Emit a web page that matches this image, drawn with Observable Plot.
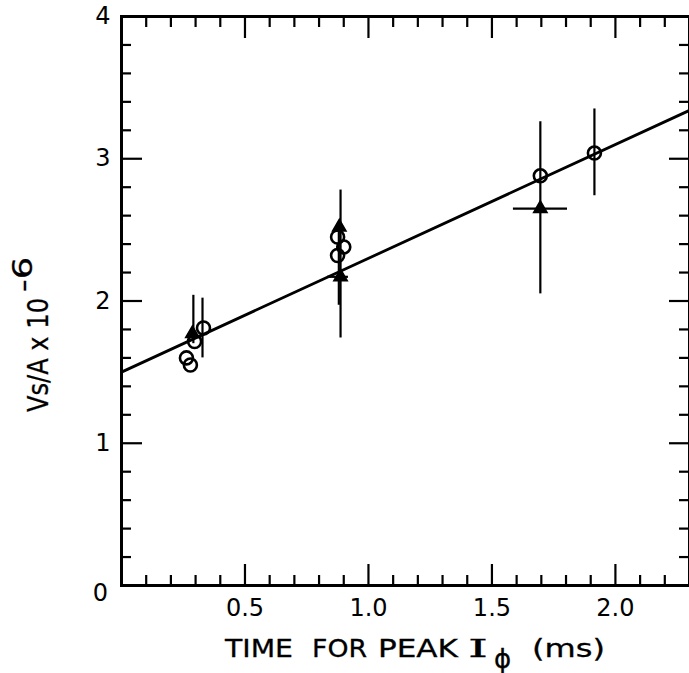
<!DOCTYPE html>
<html><head><meta charset="utf-8">
<script src="https://cdn.jsdelivr.net/npm/d3@7"></script>
<script src="https://cdn.jsdelivr.net/npm/@observablehq/plot@0.6"></script>
<style>body{margin:0;background:#fff} svg{display:block}</style>
</head><body><div id="chart"></div>
<script>
// Open circles
const openX = [0.263, 0.279, 0.296, 0.332, 0.875, 0.900, 0.875, 1.696, 1.915];
const openY = [1.60, 1.55, 1.715, 1.81, 2.45, 2.38, 2.32, 2.88, 3.04];
// Filled triangles
const filledX = [0.287, 0.882, 0.887, 1.696];
const filledY = [1.77, 2.52, 2.17, 2.65];
// Vertical error bars
const vErrX  = [0.291, 0.328, 0.887, 0.880, 1.696, 1.915];
const vErrLo = [1.70, 1.60, 1.74, 1.97, 2.05, 2.74];
const vErrHi = [2.04, 2.02, 2.78, 2.50, 3.26, 3.35];
// Horizontal error bars
const hErrY  = [2.17, 2.65];
const hErrLo = [0.834, 1.587];
const hErrHi = [0.919, 1.806];
// Fitted line end points
const fitX = [0, 2.3];
const fitY = [1.50, 3.34];
// Ticks
const xMajorTicks = [0.5, 1.0, 1.5, 2.0];
const xMinorTicks = [0.1,0.2,0.3,0.4,0.6,0.7,0.8,0.9,1.1,1.2,1.3,1.4,1.6,1.7,1.8,1.9,2.1,2.2];
const yMajorTicks = [1, 2, 3];
const yMinorTicks = [0.2,0.4,0.6,0.8,1.2,1.4,1.6,1.8,2.2,2.4,2.6,2.8,3.2,3.4,3.6,3.8];
const yTickLabels = [1, 2, 3, 4];
const yZeroLabel = ["0"];

const openPts = openX.map((x, i) => ({x, y: openY[i]}));
const filledPts = filledX.map((x, i) => ({x, y: filledY[i]}));
const vErr = vErrX.map((x, i) => ({x, y1: vErrLo[i], y2: vErrHi[i]}));
const hErr = hErrY.map((y, i) => ({y, x1: hErrLo[i], x2: hErrHi[i]}));
const fit = fitX.map((x, i) => ({x, y: fitY[i]}));

const blank = () => "";
const chart = Plot.plot({
  width: 689, height: 673,
  marginLeft: 121, marginRight: 0, marginTop: 16, marginBottom: 88,
  style: {background: "white", color: "black", fontFamily: "DejaVu Sans"},
  x: {domain: [0, 2.3]},
  y: {domain: [0, 4]},
  marks: [
    Plot.axisX(xMinorTicks, {anchor: "bottom", tickSize: -10, strokeWidth: 2.2, tickFormat: blank, label: null}),
    Plot.axisX(xMajorTicks, {anchor: "bottom", tickSize: -21, strokeWidth: 2.2, tickFormat: blank, label: null}),
    Plot.axisX(xMinorTicks, {anchor: "top", tickSize: -10, strokeWidth: 2.2, tickFormat: blank, label: null}),
    Plot.axisX(xMajorTicks, {anchor: "top", tickSize: -21, strokeWidth: 2.2, tickFormat: blank, label: null}),
    Plot.axisY(yMinorTicks, {anchor: "left", tickSize: -10, strokeWidth: 2.2, tickFormat: blank, label: null}),
    Plot.axisY(yMajorTicks, {anchor: "left", tickSize: -21, strokeWidth: 2.2, tickFormat: blank, label: null}),
    Plot.axisY(yMinorTicks, {anchor: "right", tickSize: -11, strokeWidth: 2.2, tickFormat: blank, label: null}),
    Plot.axisY(yMajorTicks, {anchor: "right", tickSize: -21, strokeWidth: 2.2, tickFormat: blank, label: null}),
    Plot.axisX(xMajorTicks, {anchor: "bottom", tickSize: 0, tickPadding: 13, fontSize: 24, tickFormat: d3.format(".1f"), label: null}),
    Plot.axisY(yTickLabels, {anchor: "left", tickSize: 0, tickPadding: 11, fontSize: 24, tickFormat: d3.format("d"), label: null}),
    Plot.text(yZeroLabel, {x: () => 0, y: () => 0, text: d => d, dx: -21, dy: 8, fontSize: 24, textAnchor: "middle", fill: "black"}),
    Plot.frame({stroke: "black", strokeWidth: 3}),
    Plot.line(fit, {x: "x", y: "y", stroke: "black", strokeWidth: 2.8}),
    Plot.ruleX(vErr, {x: "x", y1: "y1", y2: "y2", stroke: "black", strokeWidth: 2.2}),
    Plot.ruleY(hErr, {y: "y", x1: "x1", x2: "x2", stroke: "black", strokeWidth: 2.2}),
    Plot.dot(openPts, {x: "x", y: "y", r: 6.5, stroke: "black", strokeWidth: 2.6, fill: "none"}),
    Plot.dot(filledPts, {x: "x", y: "y", r: 5, symbol: "triangle", fill: "black", stroke: "black"})
  ]
});

const svg = d3.select(chart);
function addText(opts, str) {
  const t = svg.append("text")
    .attr("text-anchor", "start")
    .attr("font-family", opts.family || "DejaVu Sans")
    .attr("font-size", opts.size).attr("fill", "black")
    .attr("stroke", "black").attr("stroke-width", 0.3);
  if (opts.transform) t.attr("transform", opts.transform);
  if (opts.x != null) t.attr("x", opts.x).attr("y", opts.y);
  if (opts.len) t.attr("textLength", opts.len).attr("lengthAdjust", opts.adjust || "spacingAndGlyphs");
  t.text(str);
}
// y-axis title
addText({transform: "translate(48,412) rotate(-90)", size: 29, len: 114}, "Vs/A x 10");
addText({transform: "translate(32,292) rotate(-90)", size: 27, len: 35}, "-6");
// x-axis title
addText({x: 225, y: 657, size: 25, len: 68}, "TIME");
addText({x: 312, y: 657, size: 25, len: 55}, "FOR");
addText({x: 378, y: 657, size: 25, len: 80}, "PEAK");
addText({x: 468, y: 657, size: 25, len: 20, family: "DejaVu Serif"}, "I");
addText({x: 494, y: 668, size: 26}, "ϕ");
addText({x: 532, y: 657, size: 25, len: 73}, "(ms)");

document.getElementById("chart").appendChild(chart);
</script>
</body></html>
